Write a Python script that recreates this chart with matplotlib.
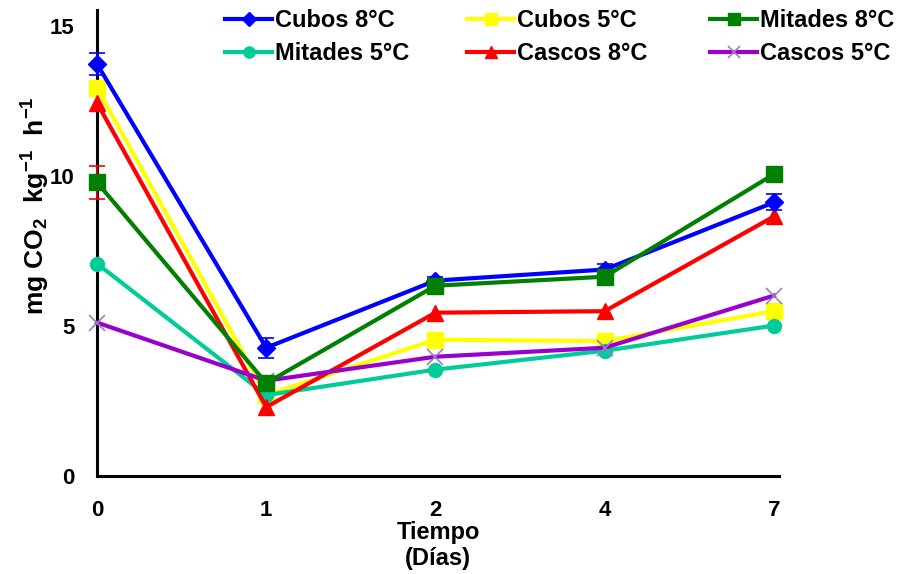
import matplotlib
matplotlib.use("Agg")
import matplotlib.pyplot as plt

plt.rcParams['font.family'] = ['Liberation Sans', 'DejaVu Sans']
plt.rcParams['font.weight'] = 'bold'
plt.rcParams['mathtext.default'] = 'bf'
plt.rcParams['mathtext.fontset'] = 'custom'
plt.rcParams['mathtext.bf'] = 'Liberation Sans:bold'
plt.rcParams['mathtext.rm'] = 'Liberation Sans:bold'

days = ["0", "1", "2", "4", "7"]
cubos8 = [13.75, 4.28, 6.52, 6.89, 9.13]
cubos8_err = [0.37, 0.33, 0.12, 0.2, 0.27]
cubos5 = [12.95, 2.7, 4.55, 4.5, 5.5]
mitades8 = [9.8, 3.1, 6.35, 6.65, 10.07]
mitades8_err = [0.55, 0.1, 0.1, 0.25, 0.1]
mitades5 = [7.09, 2.7, 3.55, 4.18, 5.02]
cascos8 = [12.45, 2.3, 5.45, 5.5, 8.66]
cascos5 = [5.12, 3.18, 3.98, 4.28, 6.02]

W, H = 900, 574
fig = plt.figure(figsize=(9, 5.74), dpi=100)
ax = fig.add_axes([97 / W, (H - 476) / H, (779 - 97) / W, (476 - 10) / H])
x = list(range(len(days)))

lw = 3
h_c8 = ax.errorbar(x, cubos8, yerr=cubos8_err, color='#0000FF', marker='D', markersize=9,
                   lw=lw, ecolor='#0000FF', elinewidth=1.2, capsize=6, capthick=1.2,
                   label='Cubos 8°C', zorder=3)
h_c5, = ax.plot(x, cubos5, color='#FFFF00', marker='s', markersize=11, lw=lw,
                label='Cubos 5°C', zorder=3)
h_m8 = ax.errorbar(x, mitades8, yerr=mitades8_err, color='#008000', marker='s', markersize=11,
                   lw=lw, ecolor='#FF0000', elinewidth=1.2, capsize=6, capthick=1.2,
                   label='Mitades 8°C', zorder=3)
h_m5, = ax.plot(x, mitades5, color='#00CC99', marker='o', markersize=10, lw=lw,
                label='Mitades 5°C', zorder=3)
h_ca8, = ax.plot(x, cascos8, color='#FF0000', marker='^', markersize=11, lw=lw,
                 label='Cascos 8°C', zorder=3)
h_ca5, = ax.plot(x, cascos5, color='#9900CC', marker='x', markersize=11, mew=1.2,
                 mec='#9980C0', lw=lw, label='Cascos 5°C', zorder=3)

for art in ax.get_children():
    try:
        art.set_clip_on(False)
    except Exception:
        pass

ax.set_xlim(0, 4.03)
ax.set_ylim(0, 15.55)
ax.set_xticks(x)
ax.set_xticklabels(days)
ax.set_yticks([0, 5, 10, 15])
ax.tick_params(axis='x', length=0, labelsize=16, pad=17)
ax.tick_params(axis='y', length=0, labelsize=16, pad=16)
for lab in ax.get_xticklabels() + ax.get_yticklabels():
    lab.set_fontweight('bold')
for s in ['top', 'right']:
    ax.spines[s].set_visible(False)
for s in ['left', 'bottom']:
    ax.spines[s].set_linewidth(2.2)
    ax.spines[s].set_color('black')

ax.set_xlabel('Tiempo\n(Días)', fontsize=17, fontweight='bold', labelpad=0, linespacing=1.2)
ax.set_ylabel(r'mg CO$_{2}$  kg$^{-1}$  h$^{-1}$', fontsize=19, fontweight='bold')
ax.yaxis.set_label_coords((52 - 97) / 682, (476 - 206) / 466)

cols = [([h_c8[0], h_m5], ['Cubos 8°C', 'Mitades 5°C'], 225),
        ([h_c5, h_ca8], ['Cubos 5°C', 'Cascos 8°C'], 467),
        ([h_m8[0], h_ca5], ['Mitades 8°C', 'Cascos 5°C'], 710)]
for hs, ls, px in cols:
    leg = fig.legend(hs, ls, loc='upper left', bbox_to_anchor=(px / W, 1.0),
                     frameon=False, fontsize=17, handlelength=2.0, handletextpad=0.12,
                     labelspacing=0.42, borderpad=0.0, borderaxespad=0.0,
                     markerscale=0.8)
    for t in leg.get_texts():
        t.set_fontweight('bold')
    leg.set_bbox_to_anchor((px / W - 0.0, 1 - 9 / H), transform=fig.transFigure)

fig.savefig('out.png', dpi=100)
